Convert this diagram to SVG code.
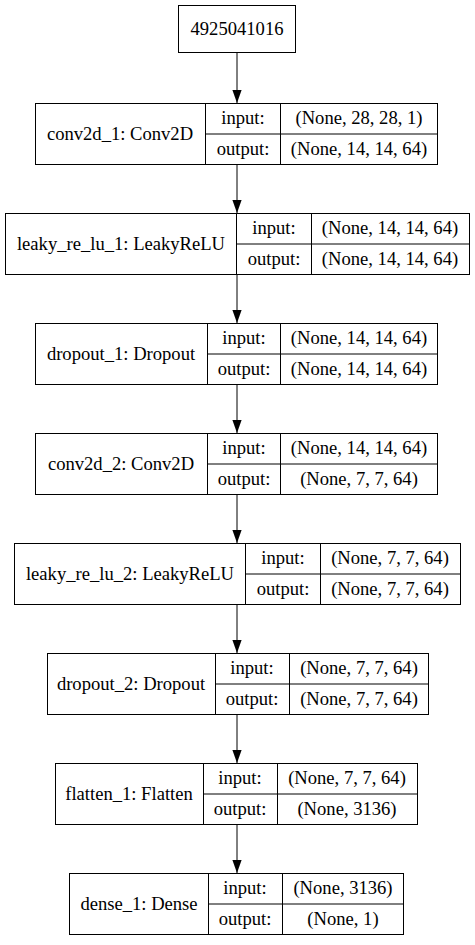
<svg xmlns="http://www.w3.org/2000/svg" width="475" height="945" viewBox="0 0 475 945">
<style>
rect,line.d{fill:none;stroke:#000;stroke-width:1}
text{font-family:'Liberation Serif','Times New Roman','DejaVu Serif',serif;font-size:18.6px;fill:#000;text-anchor:middle}
.e{stroke:#000;stroke-width:1;fill:none}
</style>
<defs>
<marker id="ah" markerWidth="13" markerHeight="10" refX="13" refY="5" orient="auto" markerUnits="userSpaceOnUse">
<path d="M0,0.4 L13,5 L0,9.6 Z" fill="#000"/>
</marker>
</defs>
<rect x="0" y="0" width="475" height="945" fill="#fff" style="stroke:none"/>
<g id="connectors">
<line class="e" x1="237" y1="53" x2="237" y2="103" marker-end="url(#ah)"/>
<line class="e" x1="237" y1="165" x2="237" y2="213" marker-end="url(#ah)"/>
<line class="e" x1="237" y1="275" x2="237" y2="323" marker-end="url(#ah)"/>
<line class="e" x1="237" y1="385" x2="237" y2="433" marker-end="url(#ah)"/>
<line class="e" x1="237" y1="495" x2="237" y2="543" marker-end="url(#ah)"/>
<line class="e" x1="237" y1="605" x2="237" y2="653" marker-end="url(#ah)"/>
<line class="e" x1="237" y1="715" x2="237" y2="763" marker-end="url(#ah)"/>
<line class="e" x1="237" y1="825" x2="237" y2="873" marker-end="url(#ah)"/>
</g>
<g id="input_node">
<rect x="178.5" y="5.5" width="117" height="47"/>
<text x="237" y="35">4925041016</text>
</g>
<g id="conv2d_1">
<rect x="35.5" y="103.5" width="402" height="61"/>
<line class="d" x1="205.5" y1="103.5" x2="205.5" y2="164.5"/>
<line class="d" x1="280.5" y1="103.5" x2="280.5" y2="164.5"/>
<line class="d" x1="205.5" y1="134" x2="437.5" y2="134"/>
<text x="120" y="140">conv2d_1: Conv2D</text>
<text x="243" y="124">input:</text>
<text x="243" y="155">output:</text>
<text x="359" y="124">(None, 28, 28, 1)</text>
<text x="359" y="155">(None, 14, 14, 64)</text>
</g>
<g id="leaky_re_lu_1">
<rect x="5.5" y="213.5" width="464" height="61"/>
<line class="d" x1="236.5" y1="213.5" x2="236.5" y2="274.5"/>
<line class="d" x1="311.5" y1="213.5" x2="311.5" y2="274.5"/>
<line class="d" x1="236.5" y1="244" x2="469.5" y2="244"/>
<text x="121" y="250">leaky_re_lu_1: LeakyReLU</text>
<text x="274" y="234">input:</text>
<text x="274" y="265">output:</text>
<text x="390" y="234">(None, 14, 14, 64)</text>
<text x="390" y="265">(None, 14, 14, 64)</text>
</g>
<g id="dropout_1">
<rect x="35.5" y="323.5" width="402" height="61"/>
<line class="d" x1="207.5" y1="323.5" x2="207.5" y2="384.5"/>
<line class="d" x1="280.5" y1="323.5" x2="280.5" y2="384.5"/>
<line class="d" x1="207.5" y1="354" x2="437.5" y2="354"/>
<text x="121" y="360">dropout_1: Dropout</text>
<text x="244" y="344">input:</text>
<text x="244" y="375">output:</text>
<text x="359" y="344">(None, 14, 14, 64)</text>
<text x="359" y="375">(None, 14, 14, 64)</text>
</g>
<g id="conv2d_2">
<rect x="35.5" y="433.5" width="402" height="61"/>
<line class="d" x1="207.5" y1="433.5" x2="207.5" y2="494.5"/>
<line class="d" x1="280.5" y1="433.5" x2="280.5" y2="494.5"/>
<line class="d" x1="207.5" y1="464" x2="437.5" y2="464"/>
<text x="121" y="470">conv2d_2: Conv2D</text>
<text x="244" y="454">input:</text>
<text x="244" y="485">output:</text>
<text x="359" y="454">(None, 14, 14, 64)</text>
<text x="359" y="485">(None, 7, 7, 64)</text>
</g>
<g id="leaky_re_lu_2">
<rect x="14.5" y="543.5" width="446" height="61"/>
<line class="d" x1="245.5" y1="543.5" x2="245.5" y2="604.5"/>
<line class="d" x1="320.5" y1="543.5" x2="320.5" y2="604.5"/>
<line class="d" x1="245.5" y1="574" x2="460.5" y2="574"/>
<text x="130" y="580">leaky_re_lu_2: LeakyReLU</text>
<text x="283" y="564">input:</text>
<text x="283" y="595">output:</text>
<text x="390" y="564">(None, 7, 7, 64)</text>
<text x="390" y="595">(None, 7, 7, 64)</text>
</g>
<g id="dropout_2">
<rect x="47.5" y="653.5" width="381" height="61"/>
<line class="d" x1="215.5" y1="653.5" x2="215.5" y2="714.5"/>
<line class="d" x1="289.5" y1="653.5" x2="289.5" y2="714.5"/>
<line class="d" x1="215.5" y1="684" x2="428.5" y2="684"/>
<text x="131" y="690">dropout_2: Dropout</text>
<text x="252" y="674">input:</text>
<text x="252" y="705">output:</text>
<text x="359" y="674">(None, 7, 7, 64)</text>
<text x="359" y="705">(None, 7, 7, 64)</text>
</g>
<g id="flatten_1">
<rect x="55.5" y="763.5" width="362" height="61"/>
<line class="d" x1="203.5" y1="763.5" x2="203.5" y2="824.5"/>
<line class="d" x1="277.5" y1="763.5" x2="277.5" y2="824.5"/>
<line class="d" x1="203.5" y1="794" x2="417.5" y2="794"/>
<text x="129" y="800">flatten_1: Flatten</text>
<text x="240" y="784">input:</text>
<text x="240" y="815">output:</text>
<text x="347" y="784">(None, 7, 7, 64)</text>
<text x="347" y="815">(None, 3136)</text>
</g>
<g id="dense_1">
<rect x="69.5" y="873.5" width="334" height="61"/>
<line class="d" x1="208.5" y1="873.5" x2="208.5" y2="934.5"/>
<line class="d" x1="282.5" y1="873.5" x2="282.5" y2="934.5"/>
<line class="d" x1="208.5" y1="904" x2="403.5" y2="904"/>
<text x="139" y="910">dense_1: Dense</text>
<text x="245" y="894">input:</text>
<text x="245" y="925">output:</text>
<text x="343" y="894">(None, 3136)</text>
<text x="343" y="925">(None, 1)</text>
</g>
</svg>
